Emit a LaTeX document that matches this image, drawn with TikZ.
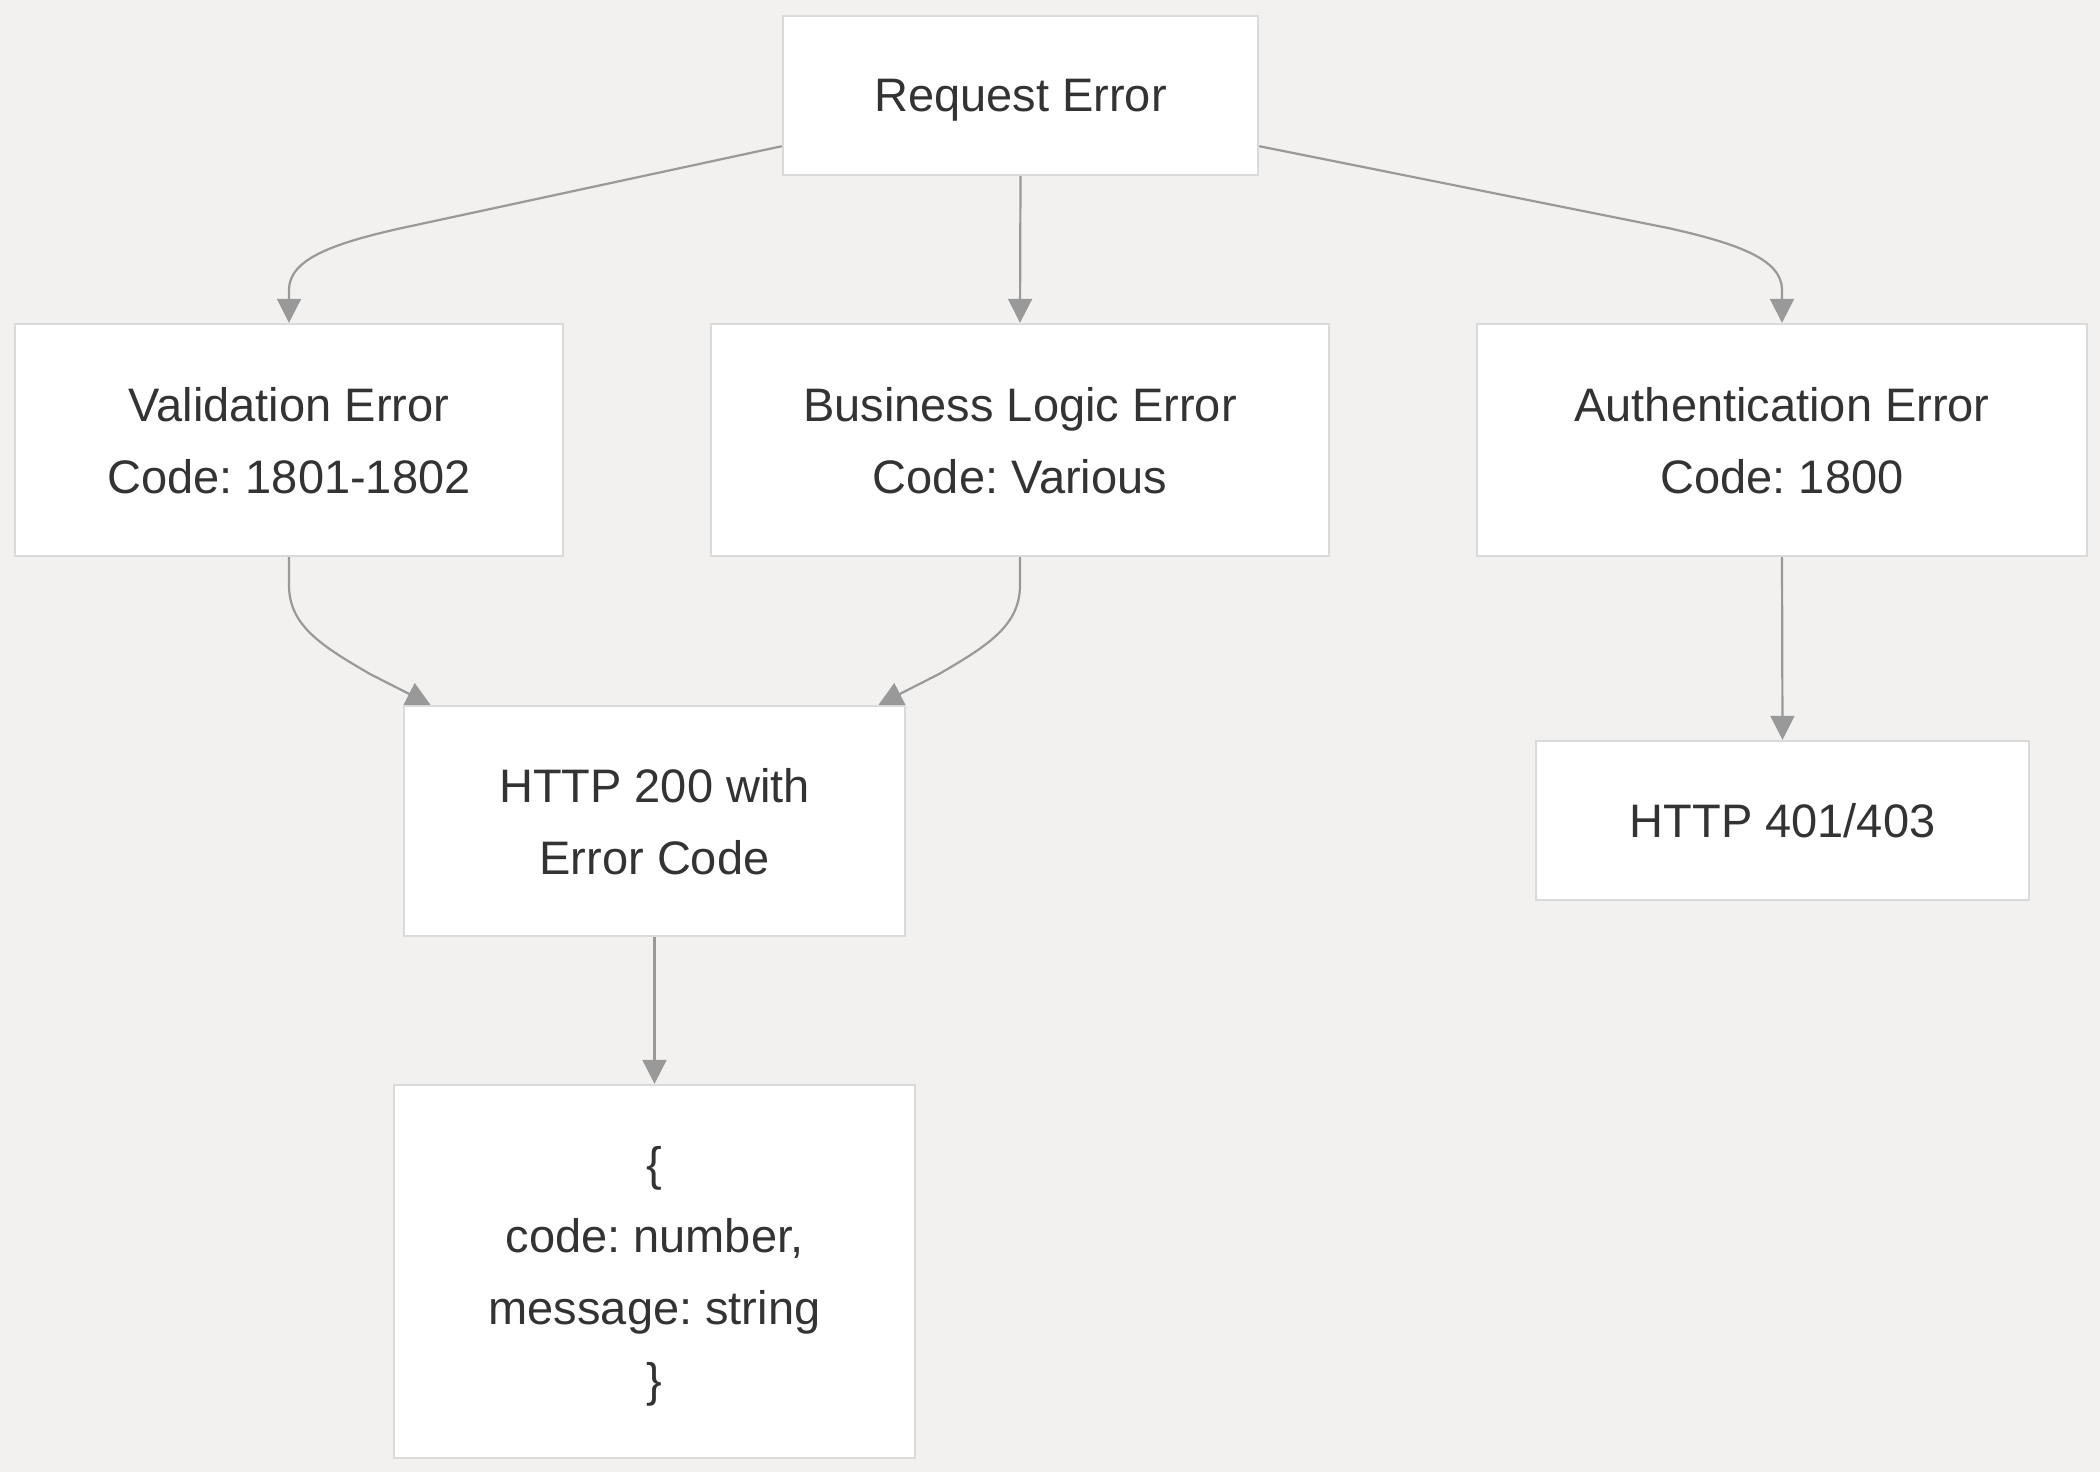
\documentclass[tikz,border=0pt]{standalone}
\usepackage{fontspec}
\setmainfont{Liberation Sans}
\usetikzlibrary{arrows.meta}
\definecolor{bg}{RGB}{242,241,239}
\definecolor{boxline}{RGB}{218,218,218}
\definecolor{arrowc}{RGB}{153,153,153}
\definecolor{txt}{RGB}{51,51,51}
\frenchspacing
\begin{document}
\begin{tikzpicture}[x=0.5pt,y=-0.5pt,
  box/.style={draw=boxline, line width=1.2pt, fill=white, align=center, text=txt,
    font=\fontsize{23.5}{36}\selectfont\frenchspacing, inner sep=0pt, text depth=-2pt},
  conn/.style={draw=arrowc, line width=1.1pt, -{Triangle[length=12pt,width=12pt]}}]
\fill[bg] (0,0) rectangle (2100,1472);
\useasboundingbox (0,0) rectangle (2100,1472);

\node[box, minimum width=237.5pt, minimum height=79.5pt] (req) at (1020.5,95.5) {Request Error};
\node[box, minimum width=274pt, minimum height=116pt] (val) at (289,440) {Validation Error\\Code: 1801-1802};
\node[box, minimum width=309pt, minimum height=116pt] (bus) at (1020,440) {Business Logic Error\\Code: Various};
\node[box, minimum width=305pt, minimum height=116pt] (auth) at (1782,440) {Authentication Error\\Code: 1800};
\node[box, minimum width=250.5pt, minimum height=115pt] (h200) at (654.5,821) {HTTP 200 with\\Error Code};
\node[box, minimum width=246.5pt, minimum height=79.5pt] (h401) at (1782.5,820.5) {HTTP 401/403};
\node[box, minimum width=260.5pt, minimum height=186.5pt] (json) at (654.5,1271.5) {\{\\code: number,\\message: string\\\}};

\draw[conn] ([yshift=15pt]req.south west) -- (402,228) .. controls (330,244) and (289,260) .. (289,290) -- (val.north);
\draw[conn] (req.south) -- (bus.north);
\draw[conn] ([yshift=15pt]req.south east) -- (1668,228) .. controls (1740,244) and (1782,260) .. (1782,290) -- (auth.north);
\draw[conn] (val.south) -- (289,585) .. controls (289,625) and (320,645) .. (370,674) -- ([xshift=-112pt]h200.north);
\draw[conn] (bus.south) -- (1020,585) .. controls (1020,625) and (989,645) .. (939,674) -- ([xshift=112pt]h200.north);
\draw[conn] (auth.south) -- (h401.north);
\draw[conn] (h200.south) -- (json.north);
\end{tikzpicture}
\end{document}
